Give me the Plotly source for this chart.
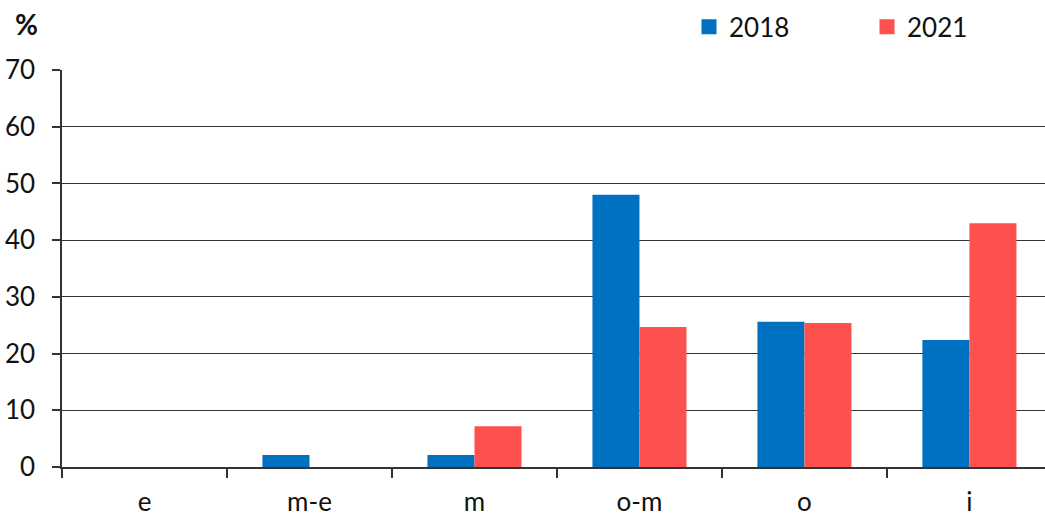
import plotly.graph_objects as go

categories = ["e", "m-e", "m", "o-m", "o", "i"]
values_2018 = [0, 2.1, 2.1, 48.0, 25.6, 22.4]
values_2021 = [0, 0, 7.2, 24.7, 25.4, 43.0]
y_ticks = [0, 10, 20, 30, 40, 50, 60, 70]
series_names = ["2018", "2021"]

BLUE = "#0070C0"
RED = "#FF5050"
FONT = "Lato, 'DejaVu Sans', sans-serif"

fig = go.Figure()
for name, vals, col in zip(series_names, [values_2018, values_2021], [BLUE, RED]):
    fig.add_trace(go.Bar(name=name, x=categories, y=vals, showlegend=False,
                         legendgroup=name,
                         marker=dict(color=col, line=dict(width=0))))
# square legend keys
for name, col in zip(series_names, [BLUE, RED]):
    fig.add_trace(go.Scatter(name=name, x=[None], y=[None], mode="markers",
                             legendgroup=name,
                             marker=dict(symbol="square", size=15, color=col)))

fig.update_layout(
    width=1045, height=517,
    margin=dict(l=62, r=0, t=70, b=50),
    paper_bgcolor="white", plot_bgcolor="white",
    barmode="group", bargap=0.43, bargroupgap=0,
    font=dict(family=FONT, size=26, color="#111111"),
    showlegend=True,
    legend=dict(orientation="h", x=0.660, xanchor="left", y=0.948, yanchor="middle",
                yref="container", font=dict(size=26), entrywidth=133,
                bgcolor="rgba(0,0,0,0)", traceorder="normal"),
    xaxis=dict(
        type="category", range=[-0.5, 5.458], automargin=False,
        showline=True, linecolor="#333333", linewidth=1.5,
        ticks="outside", tickson="boundaries", ticklen=9, tickcolor="#333333",
        tickwidth=1.5, showgrid=False, ticklabelstandoff=11,
        tickfont=dict(size=26),
    ),
    yaxis=dict(
        range=[0, 70], tickvals=y_ticks, automargin=False,
        showline=True, linecolor="#333333", linewidth=1.5,
        ticks="outside", ticklen=8, tickcolor="#333333", tickwidth=1.5,
        showgrid=True, gridcolor="#333333", gridwidth=1,
        zeroline=False, ticklabelstandoff=12,
        tickfont=dict(size=26),
    ),
    annotations=[dict(text="<b>%</b>", xref="paper", yref="paper", x=-0.0366, y=1.115,
                      xanchor="center", yanchor="middle", showarrow=False,
                      font=dict(size=28))],
)

fig.write_html("out.html")
